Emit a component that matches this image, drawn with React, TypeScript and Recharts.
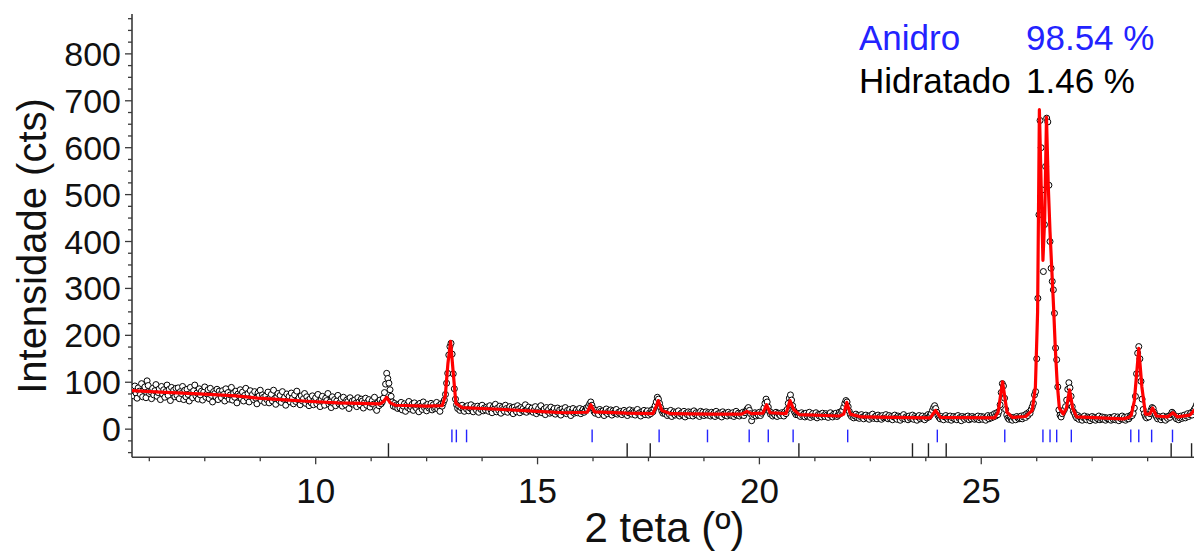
import React from 'react';
import { ComposedChart, XAxis, YAxis, Scatter, ReferenceLine } from 'recharts';

// ---- data ----
const X_START = 5.875;
const X_STEP = 0.025;

// observed intensity (cts), one value every 0.025 deg starting at 5.875
const observed: number[] = [
  // 5.875 - 6.85
  85, 71, 92, 77, 66, 88, 81, 74, 97, 69, 83, 90, 67, 103, 93, 76, 80, 65, 87, 73,
  82, 95, 70, 78, 86, 63, 91, 75, 84, 68, 80, 94, 72, 85, 61, 89, 77, 83, 69, 87,
  // 6.875 - 7.85
  72, 88, 65, 80, 76, 91, 63, 83, 69, 85, 74, 60, 89, 78, 67, 82, 94, 71, 77, 64,
  86, 73, 81, 62, 79, 90, 68, 75, 84, 65, 87, 72, 58, 80, 76, 69, 85, 63, 81, 74,
  // 7.875 - 8.85
  67, 82, 74, 60, 86, 70, 78, 64, 73, 89, 62, 77, 68, 81, 56, 75, 71, 84, 65, 79,
  60, 72, 87, 67, 76, 58, 82, 69, 74, 63, 80, 66, 54, 77, 71, 83, 61, 73, 68, 57,
  // 8.875 - 9.85
  71, 63, 79, 56, 67, 74, 60, 83, 65, 53, 69, 76, 61, 72, 57, 80, 64, 68, 51, 75,
  62, 70, 58, 77, 66, 54, 73, 59, 81, 63, 67, 52, 71, 60, 65, 76, 55, 69, 61, 50,
  // 9.875 - 10.85
  65, 56, 71, 52, 62, 67, 54, 74, 59, 48, 64, 70, 57, 51, 66, 61, 76, 53, 58, 46,
  69, 55, 63, 50, 60, 72, 54, 57, 65, 49, 68, 56, 52, 62, 59, 44, 67, 55, 60, 53,
  // 10.875 - 11.85
  62, 55, 48, 67, 58, 52, 64, 60, 45, 57, 66, 51, 59, 63, 47, 55, 61, 53, 68, 44,
  40, 56, 50, 62, 54, 58, 66, 78, 96, 119, 108, 98, 84, 70, 58, 49, 55, 47, 52, 44,
  // 11.875 - 12.85
  52, 45, 57, 41, 49, 54, 38, 51, 46, 59, 43, 48, 53, 40, 56, 47, 44, 51, 37, 55,
  49, 42, 58, 46, 50, 39, 53, 45, 48, 55, 41, 52, 44, 47, 57, 43, 50, 38, 54, 49,
  // 12.875 - 13.85
  56, 62, 74, 98, 119, 158, 176, 183, 160, 118, 86, 64, 52, 44, 49, 40, 46, 51, 42, 38,
  47, 43, 50, 39, 45, 52, 41, 37, 48, 44, 40, 49, 36, 46, 42, 51, 39, 45, 41, 47,
  // 13.875 - 14.85
  44, 38, 50, 41, 35, 47, 43, 53, 37, 45, 40, 49, 34, 46, 42, 38, 51, 44, 36, 43,
  48, 39, 45, 33, 47, 41, 37, 50, 43, 35, 46, 40, 44, 38, 52, 36, 42, 47, 39, 41,
  // 14.875 - 15.85
  45, 36, 41, 48, 33, 39, 44, 37, 50, 35, 40, 43, 31, 46, 38, 42, 34, 47, 36, 40,
  44, 32, 38, 45, 35, 41, 30, 43, 37, 39, 46, 33, 40, 36, 42, 29, 38, 44, 34, 37,
  // 15.875 - 16.85
  41, 35, 39, 44, 33, 38, 42, 36, 40, 45, 43, 49, 54, 58, 51, 44, 37, 34, 40, 36,
  31, 42, 38, 35, 39, 29, 37, 43, 33, 38, 36, 41, 30, 39, 35, 37, 42, 32, 36, 34,
  // 16.875 - 17.85
  38, 31, 36, 40, 33, 37, 29, 35, 41, 34, 32, 39, 36, 30, 38, 42, 33, 35, 28, 37,
  34, 40, 31, 36, 39, 30, 35, 33, 41, 37, 44, 50, 58, 68, 64, 55, 46, 39, 34, 37,
  // 17.875 - 18.85
  33, 38, 29, 35, 31, 40, 27, 34, 37, 30, 36, 32, 39, 28, 33, 35, 30, 38, 26, 34,
  31, 37, 29, 36, 33, 28, 39, 32, 35, 30, 34, 27, 38, 31, 36, 29, 33, 37, 30, 35,
  // 18.875 - 19.85
  32, 28, 36, 30, 34, 27, 38, 31, 33, 29, 35, 26, 37, 32, 30, 34, 28, 36, 31, 33,
  29, 35, 27, 32, 38, 30, 34, 28, 33, 31, 36, 29, 35, 39, 43, 46, 40, 33, 18, 27,
  // 19.875 - 20.85
  31, 35, 28, 33, 30, 36, 29, 34, 38, 45, 55, 64, 58, 47, 38, 32, 35, 28, 33, 30,
  36, 27, 34, 31, 29, 35, 32, 28, 37, 33, 42, 55, 66, 73, 62, 50, 40, 35, 31, 34,
  // 20.875 - 21.85
  30, 33, 27, 35, 29, 32, 26, 34, 28, 31, 36, 25, 30, 33, 27, 29, 35, 24, 31, 28,
  32, 26, 34, 29, 27, 33, 30, 25, 31, 35, 28, 26, 32, 29, 34, 27, 30, 36, 33, 38,
  // 21.875 - 22.85
  40, 47, 55, 61, 58, 48, 38, 31, 27, 30, 24, 28, 32, 25, 29, 23, 27, 31, 26, 22,
  28, 30, 24, 27, 21, 29, 25, 32, 23, 26, 28, 22, 30, 25, 27, 21, 29, 24, 26, 31,
  // 22.875 - 23.85
  25, 22, 29, 23, 27, 20, 26, 30, 24, 21, 28, 25, 19, 27, 23, 31, 22, 26, 24, 20,
  28, 23, 25, 30, 21, 27, 24, 19, 26, 29, 22, 25, 28, 23, 20, 27, 24, 31, 26, 30,
  // 23.875 - 24.85
  33, 40, 46, 50, 44, 36, 29, 25, 22, 27, 23, 20, 26, 29, 24, 21, 25, 28, 19, 24,
  27, 22, 26, 20, 29, 23, 25, 18, 27, 24, 21, 26, 23, 28, 20, 25, 22, 27, 24, 21,
  // 24.875 - 25.85
  25, 22, 28, 20, 24, 27, 21, 26, 23, 19, 25, 29, 22, 27, 24, 30, 26, 33, 28, 35,
  31, 38, 52, 78, 97, 92, 66, 42, 30, 24, 21, 26, 22, 19, 25, 23, 20, 27, 24, 22,
  // 25.875 - 26.85
  24, 28, 22, 26, 30, 25, 33, 29, 36, 34, 42, 48, 55, 73, 80, 150, 279, 457, 658, 600,
  510, 336, 436, 560, 663, 655, 520, 400, 343, 315, 297, 247, 173, 148, 90, 41, 30, 26, 33, 38,
  // 26.875 - 27.85
  42, 48, 62, 85, 99, 88, 70, 48, 38, 34, 28, 24, 29, 21, 26, 23, 19, 25, 28, 22,
  20, 26, 24, 18, 23, 27, 21, 25, 19, 24, 22, 28, 20, 23, 26, 21, 25, 19, 24, 22,
  // 27.875 - 28.85
  22, 25, 19, 24, 21, 27, 20, 23, 26, 18, 24, 22, 28, 21, 25, 19, 23, 27, 22, 26,
  30, 29, 34, 45, 70, 118, 162, 176, 150, 102, 64, 42, 33, 27, 24, 29, 26, 33, 40, 46,
  // 28.875 - 29.85
  44, 36, 30, 26, 22, 27, 24, 20, 25, 28, 22, 19, 26, 23, 28, 25, 31, 36, 33, 29,
  25, 22, 27, 20, 24, 28, 23, 26, 30, 24, 28, 33, 27, 31, 35, 30, 38, 42, 46, 52,
  // 29.875 - 29.975
  48, 41, 37, 44, 39,
];

// calculated profile (red line)
const calcX: number[] = [
  5.86, 6.5, 7.0, 7.6, 8.2, 8.7, 9.3, 9.9, 10.5, 11.0, 11.45, 11.52, 11.6, 11.68, 11.8,
  12.5, 12.85, 12.92, 12.98, 13.04, 13.1, 13.16, 13.3, 14.0, 15.0, 15.6, 16.12, 16.2, 16.28,
  17.0, 17.6, 17.66, 17.72, 17.8, 18.0, 19.0, 19.6, 19.72, 19.82, 20.08, 20.16, 20.24,
  20.6, 20.69, 20.77, 20.9, 21.8, 21.9, 21.97, 22.05, 22.3, 23.0, 23.85, 23.97, 24.08,
  25.3, 25.38, 25.48, 25.58, 25.7, 26.0, 26.15, 26.22, 26.27, 26.31, 26.35, 26.39, 26.43,
  26.47, 26.51, 26.55, 26.59, 26.63, 26.67, 26.71, 26.76, 26.85, 26.92, 26.99, 27.06,
  27.15, 28.2, 28.33, 28.38, 28.45, 28.55, 28.62, 28.7, 28.8, 28.86, 28.95, 29.2, 29.32,
  29.42, 29.7, 29.8, 29.87, 29.975,
];
const calcY: number[] = [
  82, 79, 77, 74, 71, 66, 62.5, 59, 56, 55, 54, 58, 68, 56, 51,
  49, 50, 70, 140, 187, 120, 55, 46, 43, 38, 35, 36, 52, 37,
  34, 33, 45, 61, 40, 33, 32, 32, 38, 33, 34, 52, 35,
  33, 61, 42, 31, 28, 32, 57, 32, 26, 25, 24, 40, 25,
  24, 36, 101, 36, 25, 27, 40, 90, 250, 681, 520, 360, 450,
  665, 520, 420, 340, 260, 170, 100, 45, 32, 45, 84, 45,
  26, 22, 25, 30, 60, 172, 90, 32, 32, 45, 28, 26, 35,
  26, 30, 40, 46, 38,
];

// reflection positions (2 theta)
const anidroMarks: number[] = [
  13.07, 13.17, 13.4, 16.23, 17.74, 18.83, 19.77, 20.2, 20.76, 21.99, 24.01, 25.53,
  26.39, 26.55, 26.7, 27.03, 28.37, 28.55, 28.84, 29.31, 29.84, 29.88,
];
const hidratadoMarks: number[] = [11.64, 17.02, 17.54, 20.89, 23.45, 23.81, 24.21, 29.28, 29.74];

const xMajorTicks: number[] = [10, 15, 20, 25];
const xMinorTicks: number[] = [6.25, 7.5, 8.75, 11.25, 12.5, 13.75, 16.25, 17.5, 18.75, 21.25, 22.5, 23.75, 26.25, 27.5, 28.75];
const yMajorTicks: number[] = [0, 100, 200, 300, 400, 500, 600, 700, 800];
const yMinorTicks: number[] = [
  -50, -25, 25, 50, 75, 125, 150, 175, 225, 250, 275, 325, 350, 375, 425, 450, 475,
  525, 550, 575, 625, 650, 675, 725, 750, 775, 825, 850, 875,
];

const legendNames: string[] = ['Anidro', 'Hidratado'];
const legendValues: string[] = ['98.54 %', '1.46 %'];
const legendColors: string[] = ['#2323ff', '#000000'];

// ---- styling ----
const FONT = '"Liberation Sans", Arial, Helvetica, sans-serif';
const AXIS_COLOR = '#3a3a3a';
const W = 1194;
const H = 544;
const X_TICK_SIZE = 7;
const X_TICK_MARGIN = 14;
const Y_TICK_SIZE = 7;
const Y_TICK_MARGIN = 4;

const obsData = observed.map((v, i) => ({ x: +(X_START + i * X_STEP).toFixed(3), y: v }));
const calcData = calcX.map((x, i) => ({ x, y: calcY[i] }));
const xTicks = [...xMajorTicks, ...xMinorTicks].sort((a, b) => a - b);
const yTicks = [...yMajorTicks, ...yMinorTicks].sort((a, b) => a - b);

const XTick = (props: any) => {
  const { x, y, payload } = props;
  const v = payload.value;
  const major = xMajorTicks.includes(v);
  const axisY = y - X_TICK_SIZE - X_TICK_MARGIN;
  return (
    <g>
      <line x1={x} x2={x} y1={axisY} y2={axisY + (major ? 7 : 4)} stroke={AXIS_COLOR} strokeWidth={1.3} />
      {major && (
        <text x={x} y={y} dy="0.71em" textAnchor="middle" fontSize={35} fontFamily={FONT} fill="#111">
          {v}
        </text>
      )}
    </g>
  );
};

const YTick = (props: any) => {
  const { x, y, payload } = props;
  const v = payload.value;
  const major = yMajorTicks.includes(v);
  const axisX = x + Y_TICK_SIZE + Y_TICK_MARGIN;
  return (
    <g>
      <line x1={axisX - (major ? 7 : 4)} x2={axisX} y1={y} y2={y} stroke={AXIS_COLOR} strokeWidth={1.3} />
      {major && (
        <text x={x} y={y} dy="0.355em" textAnchor="end" fontSize={34} fontFamily={FONT} fill="#111">
          {v}
        </text>
      )}
    </g>
  );
};

const CircleShape = (props: any) => (
  <circle cx={props.cx} cy={props.cy} r={3} fill="#ffffff" stroke="#000000" strokeWidth={1} />
);
const NoShape = () => null;

export default function App() {
  return (
    <div style={{ position: 'relative', width: W, height: H }}>
      <ComposedChart width={W} height={H} margin={{ top: 6, right: 0, bottom: 0, left: 0 }}>
        <XAxis
          dataKey="x"
          type="number"
          domain={[5.86, 29.975]}
          allowDataOverflow
          ticks={xTicks}
          interval={0}
          tick={<XTick />}
          tickLine={false}
          tickSize={X_TICK_SIZE}
          tickMargin={X_TICK_MARGIN}
          height={94.7}
          axisLine={{ stroke: AXIS_COLOR, strokeWidth: 1.6 }}
        />
        <YAxis
          type="number"
          domain={[-60, 885]}
          allowDataOverflow
          ticks={yTicks}
          interval={0}
          tick={<YTick />}
          tickLine={false}
          tickSize={Y_TICK_SIZE}
          tickMargin={Y_TICK_MARGIN}
          width={124}
          axisLine={{ stroke: AXIS_COLOR, strokeWidth: 1.6 }}
        />
        {anidroMarks.map((p) => (
          <ReferenceLine
            key={'a' + p}
            segment={[{ x: p, y: -1 }, { x: p, y: -28 }]}
            stroke="#2323ff"
            strokeWidth={1.4}
          />
        ))}
        {hidratadoMarks.map((p) => (
          <ReferenceLine
            key={'h' + p}
            segment={[{ x: p, y: -30 }, { x: p, y: -60 }]}
            stroke="#222222"
            strokeWidth={1.4}
          />
        ))}
        <Scatter data={obsData} dataKey="y" shape={CircleShape} isAnimationActive={false} />
        <Scatter
          data={calcData}
          dataKey="y"
          shape={NoShape}
          line={{ stroke: '#ff0000', strokeWidth: 3.2, strokeLinejoin: 'round' }}
          lineType="joint"
          isAnimationActive={false}
        />
      </ComposedChart>
      <svg
        width={W}
        height={H}
        style={{ position: 'absolute', left: 0, top: 0, pointerEvents: 'none', overflow: 'visible' }}
      >
        <text
          x={24}
          y={238}
          transform="rotate(-90 24 238)"
          textAnchor="middle"
          dy="0.355em"
          fontSize={40}
          fontFamily={FONT}
          fill="#111"
        >
          Intensidade (cts)
        </text>
        <text x={656.5} y={534} textAnchor="middle" fontSize={42} fontFamily={FONT} fill="#111">
          2 teta (º)
        </text>
        {legendNames.map((n, i) => (
          <g key={n}>
            <text x={851} y={42 + i * 42.7} fontSize={35} fontFamily={FONT} fill={legendColors[i]}>
              {n}
            </text>
            <text x={1018} y={42 + i * 42.7} fontSize={35} fontFamily={FONT} fill={legendColors[i]}>
              {legendValues[i]}
            </text>
          </g>
        ))}
      </svg>
    </div>
  );
}
